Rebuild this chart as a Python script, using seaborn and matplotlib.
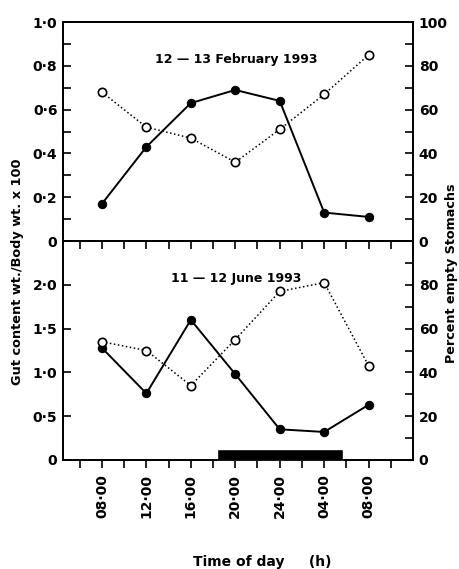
import numpy as np
import pandas as pd
import matplotlib
matplotlib.use("Agg")
import matplotlib.pyplot as plt
import seaborn as sns

# Sampling times (hours from midnight of day 1) and their labels
hours = [8, 12, 16, 20, 24, 28, 32]
time_labels = ["08·00", "12·00", "16·00", "20·00", "24·00", "04·00", "08·00"]

# 12-13 February 1993
feb_gut = [0.17, 0.43, 0.63, 0.69, 0.64, 0.13, 0.11]
feb_empty = [68, 52, 47, 36, 51, 67, 85]

# 11-12 June 1993
jun_gut = [1.28, 0.76, 1.60, 0.98, 0.35, 0.32, 0.63]
jun_empty = [54, 50, 34, 55, 77, 81, 43]

# dark period (hours)
dark_start, dark_end = 18.4, 29.7

sns.set_style("ticks")
plt.rcParams["font.family"] = ["DejaVu Sans"]
plt.rcParams["font.size"] = 10
plt.rcParams["font.weight"] = "bold"
for key in ("text.color", "axes.labelcolor", "xtick.color", "ytick.color"):
    plt.rcParams[key] = "black"

INK = "black"


def draw_series(ax, ax_r, gut, empty):
    df = pd.DataFrame({"hour": hours, "gut": gut, "empty": empty})
    sns.lineplot(data=df, x="hour", y="gut", ax=ax, color=INK, lw=1.4,
                 marker="o", markersize=6, markerfacecolor=INK,
                 markeredgecolor=INK)
    sns.lineplot(data=df, x="hour", y="empty", ax=ax_r, color=INK, lw=1.1,
                 linestyle=":", marker="o", markersize=6,
                 markerfacecolor="white", markeredgecolor=INK,
                 markeredgewidth=1.2)
    ax.set_xlabel("")
    ax.set_ylabel("")
    ax_r.set_ylabel("")


def style_axes(ax, ax_r):
    for a in (ax, ax_r):
        for s in a.spines.values():
            s.set_visible(True)
            s.set_linewidth(1.3)
            s.set_color(INK)
    ax.set_xlim(4.5, 36)


def pct_axis(ax_r, major):
    ax_r.set_ylim(0, 100)
    ax_r.set_yticks(major)
    ax_r.set_yticklabels([str(v) for v in major])
    ax_r.set_yticks(np.arange(10, 100, 20), minor=True)
    ax_r.tick_params(axis="y", which="both", direction="in", length=6,
                     width=1.2, labelsize=10, pad=4, colors=INK)


fig = plt.figure(figsize=(4.6, 5.69), dpi=100)
left, width = 0.137, 0.761
ax_bot = fig.add_axes([left, 0.1916, width, 0.3848])
ax_top = fig.add_axes([left, 0.5764, width, 0.3848])
ax_bot_r = ax_bot.twinx()
ax_top_r = ax_top.twinx()
ax_bot.patch.set_visible(False)

# ---- top panel (February)
draw_series(ax_top, ax_top_r, feb_gut, feb_empty)
style_axes(ax_top, ax_top_r)
ax_top.set_ylim(0, 1.0)
top_major = [0, 0.2, 0.4, 0.6, 0.8, 1.0]
ax_top.set_yticks(top_major)
ax_top.set_yticklabels(["0", "0·2", "0·4", "0·6", "0·8", "1·0"])
ax_top.set_yticks([0.1, 0.3, 0.5, 0.7, 0.9], minor=True)
ax_top.tick_params(axis="y", which="both", direction="in", length=6,
                   width=1.2, labelsize=10, pad=4)
ax_top.set_xticks(np.arange(6, 35, 2))
ax_top.tick_params(axis="x", direction="out", length=6, width=1.2,
                   labelbottom=False)
pct_axis(ax_top_r, [0, 20, 40, 60, 80, 100])
ax_top.text(0.494, 0.83, "12 — 13 February 1993", transform=ax_top.transAxes,
            ha="center", va="center", fontsize=9)

# ---- bottom panel (June)
draw_series(ax_bot, ax_bot_r, jun_gut, jun_empty)
style_axes(ax_bot, ax_bot_r)
ax_bot.set_ylim(0, 2.5)
ax_bot.set_yticks([0, 0.5, 1.0, 1.5, 2.0])
ax_bot.set_yticklabels(["0", "0·5", "1·0", "1·5", "2·0"])
ax_bot.tick_params(axis="y", direction="in", length=6, width=1.2,
                   labelsize=10, pad=4)
ax_bot.set_xticks(hours)
ax_bot.set_xticklabels(time_labels, rotation=90)
ax_bot.set_xticks(np.arange(6, 35, 4), minor=True)
ax_bot.tick_params(axis="x", which="both", direction="out", length=6,
                   width=1.2, labelsize=10, pad=4)
pct_axis(ax_bot_r, [0, 20, 40, 60, 80])
ax_bot.broken_barh([(dark_start, dark_end - dark_start)], (0, 0.12),
                   facecolors=INK, zorder=3)
ax_bot.text(0.494, 0.83, "11 — 12 June 1993", transform=ax_bot.transAxes,
            ha="center", va="center", fontsize=9)

# ---- shared labels
fig.text(0.039, 0.522, "Gut content wt./Body wt. x 100", rotation=90,
         ha="center", va="center", fontsize=9.3)
fig.text(0.982, 0.52, "Percent empty Stomachs", rotation=90,
         ha="center", va="center", fontsize=9.2)
fig.text(0.57, 0.013, "Time of day     (h)", ha="center", va="center",
         fontsize=10)

fig.savefig("out.png", dpi=100, facecolor="white")
